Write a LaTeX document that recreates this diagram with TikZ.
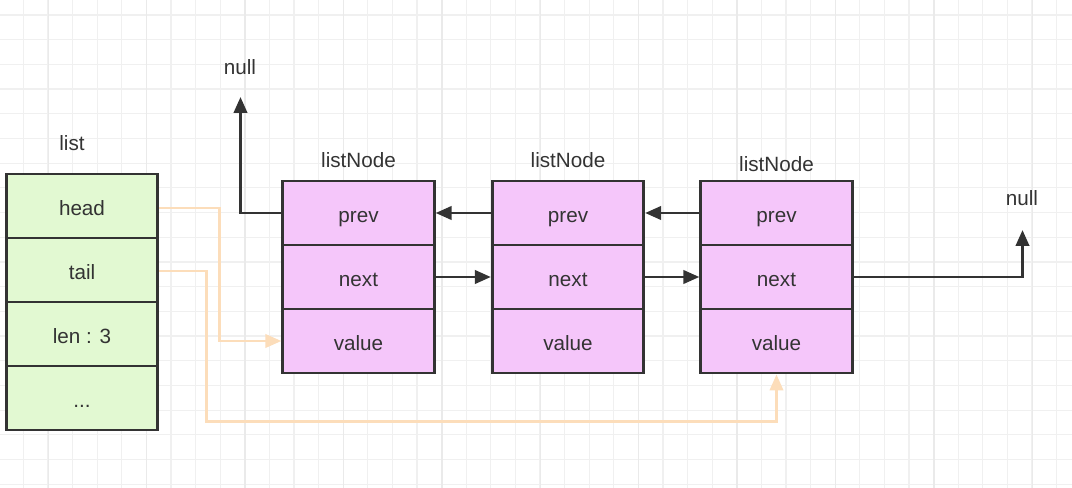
\documentclass[tikz,border=0pt]{standalone}
\usepackage{fontspec}
\setmainfont{Liberation Sans}
\usetikzlibrary{arrows.meta}
\definecolor{gridminor}{HTML}{F0F0F0}
\definecolor{gridmajor}{HTML}{EAEAEA}
\definecolor{cellgreen}{HTML}{E2F9D2}
\definecolor{cellpink}{HTML}{F5C6FA}
\definecolor{ink}{HTML}{333333}
\definecolor{peach}{HTML}{FCDDBA}
\tikzset{
  cellbase/.style={draw=ink, line width=2.1pt, minimum width=113.6pt, minimum height=48pt,
    inner sep=0pt, text height=15pt, text depth=1pt, text=ink, font=\fontsize{15.5}{18}\selectfont},
  listcell/.style={cellbase, fill=cellgreen},
  nodecell/.style={cellbase, fill=cellpink},
  lbl/.style={text=ink, font=\fontsize{15.5}{18}\selectfont, inner sep=0pt},
  blk/.style={draw=ink, line width=2.2pt, -{Triangle[length=12pt,width=10pt]}},
  orng/.style={draw=peach, line width=2pt, -{Triangle[length=12pt,width=10pt]}},
}
\begin{document}
\begin{tikzpicture}[x=0.75pt,y=-0.75pt]
\useasboundingbox (0,0) rectangle (1072,488);
\fill[white] (0,0) rectangle (1072,488);
% grid
\foreach \i in {0,...,43} {
  \draw[gridminor, line width=0.9pt] ({23.3+24.6*\i},0) -- ({23.3+24.6*\i},488);
}
\foreach \i in {0,...,19} {
  \draw[gridminor, line width=0.9pt] (0,{15+24.7*\i}) -- (1072,{15+24.7*\i});
}
\foreach \i in {0,...,10} {
  \draw[gridmajor, line width=1pt] ({48.3+98.4*\i},0) -- ({48.3+98.4*\i},488);
}

% list struct
\node[lbl] (listlbl) at (72,143) {list};
\node[listcell] (l1) at (82,206) {head};
\node[listcell] (l2) at (82,270) {tail};
\node[listcell] (l3) at (82,334) {len : 3};
\node[listcell] (l4) at (82,398) {...};

% list nodes
\foreach \n/\x/\ly in {1/358.5/160, 2/568/160, 3/776.5/164} {
  \node[lbl] (ln\n) at (\x,\ly) {listNode};
  \node[nodecell] (n\n p) at (\x,213) {prev};
  \node[nodecell] (n\n n) at (\x,277) {next};
  \node[nodecell] (n\n v) at (\x,341) {value};
}

% null labels and arrow ends
\node[lbl] (nullL) at (240,67) {null};
\node[lbl] (nullR) at (1022,198) {null};
\coordinate (cL) at (240.5,97);
\coordinate (cR) at (1022.5,230);

% prev / next pointers
\draw[blk] (n1p.west) -| (cL);
\draw[blk] (n2p.west) -- (n1p.east);
\draw[blk] (n3p.west) -- (n2p.east);
\draw[blk] (n1n.east) -- (n2n.west);
\draw[blk] (n2n.east) -- (n3n.west);
\draw[blk] (n3n.east) -| (cR);

% head / tail pointers
\coordinate (hbend) at (219.5,208);
\coordinate (tbend) at (206.5,271);
\coordinate (tlow) at (206.5,421.5);
\draw[orng] (l1.east |- hbend) -- (hbend) |- (n1v.west);
\draw[orng] (l2.east |- tbend) -- (tbend) -- (tlow) -| (n3v.south);
\end{tikzpicture}
\end{document}
